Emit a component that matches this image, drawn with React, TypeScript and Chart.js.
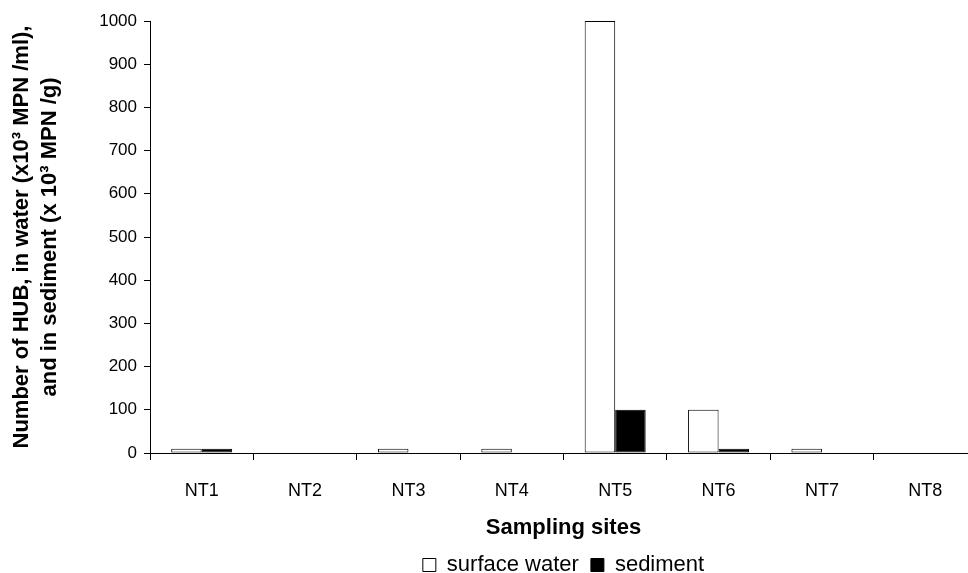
import React, { useEffect, useRef } from "react";
import { Chart, registerables } from "chart.js";

Chart.register(...registerables);

const categories = ["NT1", "NT2", "NT3", "NT4", "NT5", "NT6", "NT7", "NT8"];
const surfaceWater = [10, 0, 10, 10, 1000, 100, 10, 0];
const sediment = [10, 0, 0, 0, 100, 10, 0, 0];
const yTicks = { min: 0, max: 1000, step: 100 };
const seriesNames = ["surface water", "sediment"];
const yTitle = ["Number of HUB, in water (x10³ MPN /ml),", "and in sediment (x 10³ MPN /g)"];
const xTitle = "Sampling sites";

const FONT = "'Liberation Sans', Arial, sans-serif";

export default function App() {
  const ref = useRef<HTMLCanvasElement | null>(null);
  useEffect(() => {
    if (!ref.current) return;
    const chart = new Chart(ref.current, {
      type: "bar",
      data: {
        labels: categories,
        datasets: [
          {
            label: seriesNames[0],
            data: surfaceWater,
            backgroundColor: "#ffffff",
            borderColor: "#000000",
            borderWidth: 1,
            borderSkipped: false,
          },
          {
            label: seriesNames[1],
            data: sediment,
            backgroundColor: "#000000",
            borderColor: "#000000",
            borderWidth: 1,
            borderSkipped: false,
          },
        ],
      },
      options: {
        responsive: false,
        animation: false,
        devicePixelRatio: 1,
        layout: { padding: { top: 21, right: 3, bottom: 0, left: 0 } },
        datasets: { bar: { categoryPercentage: 0.59, barPercentage: 1 } },
        plugins: {
          legend: {
            position: "bottom",
            fullSize: false,
            labels: {
              boxWidth: 13,
              boxHeight: 13,
              padding: 12,
              color: "#000",
              font: { family: FONT, size: 22 },
            },
          },
          tooltip: { enabled: false },
        },
        scales: {
          x: {
            grid: {
              display: true,
              drawOnChartArea: false,
              offset: true,
              color: "#000",
              tickLength: 7,
              tickColor: "#000",
            },
            border: { display: true, color: "#000", width: 1 },
            ticks: { color: "#000", padding: 20, font: { family: FONT, size: 18 } },
            title: {
              display: true,
              text: xTitle,
              color: "#000",
              font: { family: FONT, size: 22, weight: "bold" },
              padding: { top: -7, bottom: 1 },
            },
          },
          y: {
            min: yTicks.min,
            max: yTicks.max,
            afterFit: (s: any) => {
              s.width = 150;
            },
            grid: {
              display: true,
              drawOnChartArea: false,
              color: "#000",
              tickLength: 6,
              tickColor: "#000",
            },
            border: { display: true, color: "#000", width: 1 },
            ticks: {
              stepSize: yTicks.step,
              color: "#000",
              padding: 7,
              font: { family: FONT, size: 17 },
              callback: (v: any) => String(v),
            },
            title: {
              display: true,
              text: yTitle,
              color: "#000",
              font: { family: FONT, size: 22, weight: "bold", lineHeight: 1.27 },
              padding: { top: 8, bottom: 0 },
            },
          },
        },
      },
    });
    return () => chart.destroy();
  }, []);
  return (
    <div
      style={{
        position: "absolute",
        left: 0,
        top: 0,
        width: 968,
        height: 573,
        overflow: "hidden",
        background: "#fff",
      }}
    >
      <canvas ref={ref} width={980} height={586} style={{ width: 980, height: 586, display: "block" }} />
    </div>
  );
}
